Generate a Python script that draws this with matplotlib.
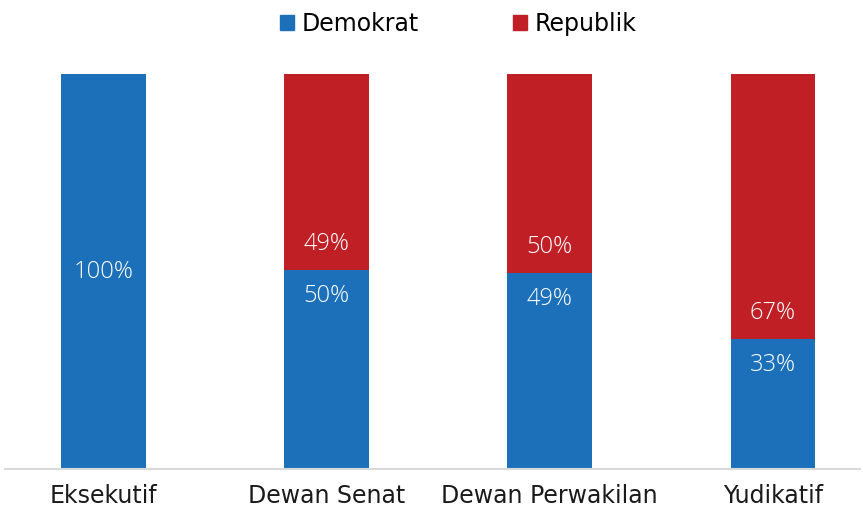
import matplotlib
matplotlib.use('Agg')
import matplotlib.pyplot as plt
from matplotlib.patches import Patch

categories = ['Eksekutif', 'Dewan Senat', 'Dewan Perwakilan', 'Yudikatif']
demokrat = [100, 50, 49, 33]
republik = [0, 49, 50, 67]

blue = '#1B70B9'
red = '#C01F26'

plt.rcParams['font.family'] = ['DejaVu Sans']
label_font = ['Open Sans', 'DejaVu Sans']

fig = plt.figure(figsize=(8.63, 5.09), dpi=100)
ax = fig.add_axes([5 / 863, 40 / 509, 855 / 863, 395 / 509])

x = list(range(len(categories)))
total = [d + r for d, r in zip(demokrat, republik)]
d_frac = [d / t for d, t in zip(demokrat, total)]
r_frac = [r / t for r, t in zip(republik, total)]

ax.bar(x, d_frac, width=0.38, color=blue)
ax.bar(x, r_frac, width=0.38, bottom=d_frac, color=red)

# labels sit just under / over the boundary between the two parts
off = 26 / 395
for i in x:
    if republik[i] == 0:
        ax.text(i, d_frac[i] / 2, f'{demokrat[i]}%', ha='center', va='center',
                color='white', fontsize=17, fontweight='light', family=label_font)
    else:
        ax.text(i, d_frac[i] - off, f'{demokrat[i]}%', ha='center', va='center',
                color='white', fontsize=17, fontweight='light', family=label_font)
        ax.text(i, d_frac[i] + off, f'{republik[i]}%', ha='center', va='center',
                color='white', fontsize=17, fontweight='light', family=label_font)

ax.set_xlim(-0.44, 3.39)
ax.set_ylim(0, 1)
ax.set_yticks([])
ax.set_xticks(x)
ax.set_xticklabels(categories, fontsize=17, color='#1a1a1a')
ax.tick_params(axis='x', length=0, pad=11)
for s in ['top', 'right', 'left']:
    ax.spines[s].set_visible(False)
ax.spines['bottom'].set_color('#D9D9D9')
ax.spines['bottom'].set_linewidth(1.5)

handles = [Patch(color=blue, label='Demokrat'), Patch(color=red, label='Republik')]
fig.legend(handles=handles, loc='center', bbox_to_anchor=(458 / 863, 1 - 24 / 509),
           ncol=2, frameon=False, fontsize=17, handlelength=0.6, handleheight=0.6,
           handletextpad=0.3, columnspacing=4.0)

fig.savefig('out.png', dpi=100)
